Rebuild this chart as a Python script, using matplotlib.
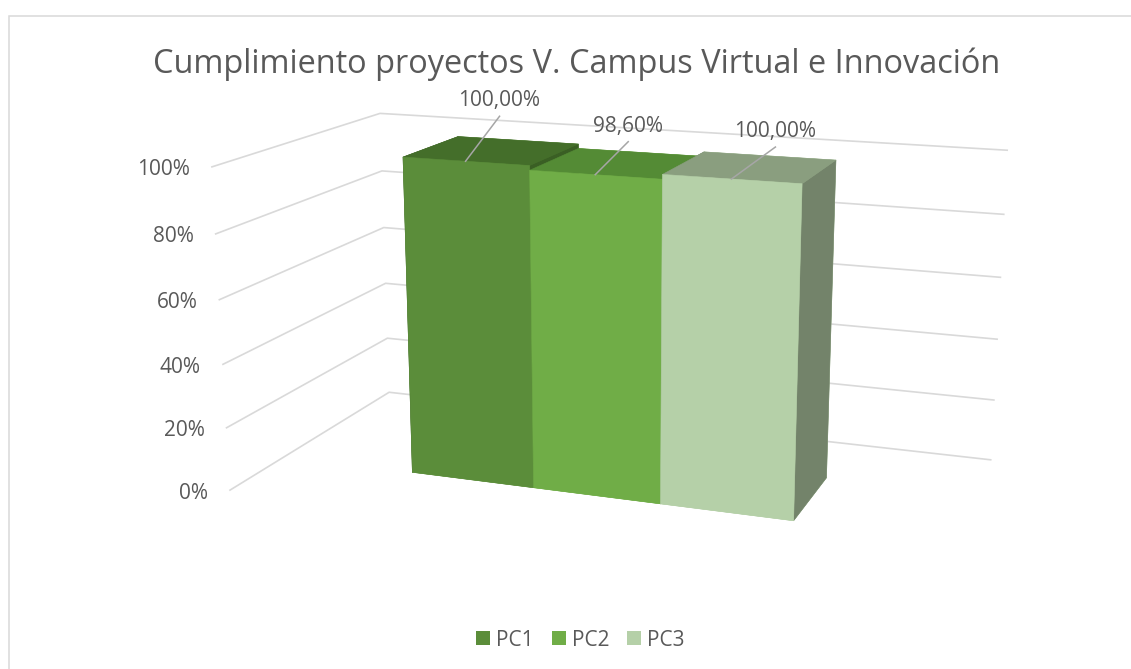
import matplotlib
matplotlib.use('Agg')
import matplotlib.pyplot as plt
from matplotlib.patches import Patch, Rectangle
from matplotlib.lines import Line2D
from mpl_toolkits.mplot3d import proj3d
import numpy as np

# data
categories = ['PC1', 'PC2', 'PC3']
values = [100.0, 98.6, 100.0]
value_labels = ['100,00%', '98,60%', '100,00%']
ticks = [0, 20, 40, 60, 80, 100]
tick_labels = ['0%', '20%', '40%', '60%', '80%', '100%']
title = 'Cumplimiento proyectos V. Campus Virtual e Innovación'

# face colours per series
front_colors = ['#5B8D3A', '#70AD47', '#B5D0A8']
top_colors = ['#446E2A', '#548B35', '#8A9E7F']
side_colors = ['#3A5F24', '#4E7F33', '#73836A']

plt.rcParams['font.family'] = ['Open Sans', 'DejaVu Sans']
text_color = '#595959'
grid_color = '#D9D9D9'
W, H = 1131, 669

fig = plt.figure(figsize=(W / 100, H / 100), dpi=100)
side = 600  # square 3d panel, px
cx_px, cy_px = 619, H - 320
ax = fig.add_axes([(cx_px - 0.5135 * side) / W, (cy_px - 0.5135 * side) / H,
                   side / W, side / H], projection='3d')
ax.patch.set_alpha(0)

# scene in "bar width" units, z in percent
x_lo, x_hi = -1.1, len(values) + 1.1
y_lo, y_hi = -0.82, 1.80
bar_d = 0.96
z_height = 2.435  # height of 100% in bar widths
ranges = np.array([x_hi - x_lo, y_hi - y_lo, z_height])

s = 134.4 / (side * 0.1 / 0.185)
ax.set_xlim(x_lo, x_hi)
ax.set_ylim(y_lo, y_hi)
ax.set_zlim(0, 100)
ax.set_box_aspect(ranges, zoom=s * np.linalg.norm(ranges) / 1.90569)
ax.set_proj_type('persp', focal_length=1.42 * s)
ax.view_init(elev=15, azim=-70)
ax.computed_zorder = False
ax.set_axis_off()

# gridlines: left wall + back wall
for t in ticks:
    ax.plot([x_lo, x_lo, x_hi], [y_lo, y_hi, y_hi], [t, t, t],
            color=grid_color, lw=1.2, zorder=1, clip_on=False)

# bars
n = len(values)
xs = np.arange(n, dtype=float)
face_colors = []
for f, tp, sd in zip(front_colors, top_colors, side_colors):
    face_colors += [f, tp, f, f, sd, sd]  # -z, +z, -y, +y, -x, +x
ax.bar3d(xs, np.zeros(n), np.zeros(n), 1.0, bar_d, values,
         color=face_colors, edgecolor=face_colors, linewidth=0.4,
         shade=False, zorder=2, clip_on=False)

fig.canvas.draw()


def to_fig(x, y, z):
    x2, y2, _ = proj3d.proj_transform(x, y, z, ax.M)
    disp = ax.transData.transform((x2, y2))
    return fig.transFigure.inverted().transform(disp)


# value axis labels at the front edge of the left wall
for t, lab in zip(ticks, tick_labels):
    px, py = to_fig(x_lo, y_lo, t)
    fig.text(px - 22 / W, py - 3 / H, lab, ha='right', va='center',
             fontsize=15, color=text_color)

# data labels with leader lines from the front top edge
leader = [(34, 45), (33, 33), (44, 32)]
for i, (v, lab) in enumerate(zip(values, value_labels)):
    px, py = to_fig(i + 0.5, 0.0, v)
    ex, ey = px + leader[i][0] / W, py + leader[i][1] / H
    fig.add_artist(Line2D([px, ex], [py, ey], color='#A6A6A6', lw=1.1,
                          transform=fig.transFigure))
    fig.text(ex, ey + 5 / H, lab, ha='center', va='bottom',
             fontsize=15, color=text_color)

fig.text(0.51, 1 - 73 / H, title, ha='center', va='baseline',
         fontsize=23.4, color=text_color)

handles = [Patch(facecolor=c, label=l) for c, l in zip(front_colors, categories)]
fig.legend(handles=handles, loc='center', bbox_to_anchor=(0.513, 1 - 640 / H),
           ncol=3, frameon=False, fontsize=15, handlelength=0.68,
           handleheight=0.68, columnspacing=0.85, handletextpad=0.28,
           labelcolor=text_color)

# chart frame
fig.add_artist(Rectangle((9 / W, -0.01), 1.0, 1 - 16 / H + 0.01,
                         transform=fig.transFigure, fill=False,
                         edgecolor='#D9D9D9', linewidth=1.1))

fig.savefig('out.png', dpi=100)
